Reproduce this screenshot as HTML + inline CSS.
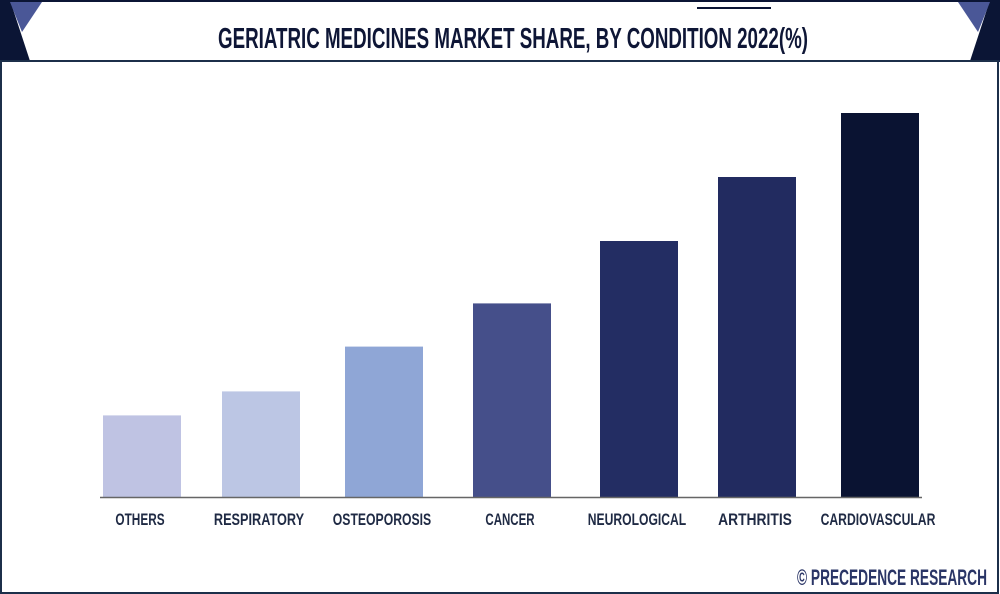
<!DOCTYPE html>
<html><head><meta charset="utf-8"><style>
html,body{margin:0;padding:0;background:#fff;}
svg{display:block;font-family:"Liberation Sans",sans-serif;}
</style></head><body>
<svg id="chart" width="1000" height="594" viewBox="0 0 1000 594">
  <rect x="0" y="0" width="1000" height="594" fill="#fff"/>
  <g>
    <polygon points="0,0 10,0 30,61 0,61" fill="#0b1535"/>
    <polygon points="10,2 42,2 22,32" fill="#4a5797"/>
    <polygon points="1000,0 990,0 970,61 1000,61" fill="#0b1535"/>
    <polygon points="990,2 958,2 978,32" fill="#4a5797"/>
    <rect x="0" y="0" width="1000" height="2" fill="#0b1535"/>
    <rect x="0" y="60" width="1000" height="2" fill="#1c2550"/>
    <rect x="697" y="7" width="74" height="2" fill="#0b1535"/>
    <text x="513" y="48" text-anchor="middle" font-size="29" font-weight="bold" fill="#0e1636" textLength="590" lengthAdjust="spacingAndGlyphs">GERIATRIC MEDICINES MARKET SHARE, BY CONDITION 2022(%)</text>
  </g>
  <rect x="1" y="61" width="997" height="532" fill="none" stroke="#1c2f4a" stroke-width="2"/>
  <g id="bars"></g>
  <line x1="100" y1="497.5" x2="922" y2="497.5" stroke="#666" stroke-width="1.5"/>
  <g id="labels"></g>
  <text x="987" y="585" text-anchor="end" font-size="22" font-weight="bold" fill="#2a3566" textLength="190" lengthAdjust="spacingAndGlyphs">© PRECEDENCE RESEARCH</text>
</svg>
<script>
const categories = ["OTHERS","RESPIRATORY","OSTEOPOROSIS","CANCER","NEUROLOGICAL","ARTHRITIS","CARDIOVASCULAR"];
const values = [5.1, 6.6, 9.4, 12.1, 16.0, 20.0, 24.0];
const colors = ["#bfc3e3","#bcc6e4","#8fa6d6","#454f8a","#232d63","#222b60","#0a1332"];
const centers = [142, 261, 384, 512, 639, 757, 880];
const NS = "http://www.w3.org/2000/svg";
const baseY = 497, pxPerUnit = 16, barW = 78;
function yScale(v){ return baseY - v * pxPerUnit; }
const gb = document.getElementById('bars'), gl = document.getElementById('labels');
categories.forEach((c, i) => {
  const r = document.createElementNS(NS, 'rect');
  r.setAttribute('x', centers[i] - barW/2);
  r.setAttribute('y', yScale(values[i]));
  r.setAttribute('width', barW);
  r.setAttribute('height', baseY - yScale(values[i]));
  r.setAttribute('fill', colors[i]);
  
  
  gb.appendChild(r);
  const t = document.createElementNS(NS, 'text');
  t.setAttribute('x', centers[i] - 2);
  t.setAttribute('y', 525);
  t.setAttribute('text-anchor', 'middle');
  t.setAttribute('font-size', '17');
  t.setAttribute('font-weight', 'bold');
  t.setAttribute('fill', '#1f2a44');
  t.setAttribute('textLength', c.length * 8.2);
  t.setAttribute('lengthAdjust', 'spacingAndGlyphs');
  
  
  t.textContent = c;
  gl.appendChild(t);
});
</script>
</body></html>
